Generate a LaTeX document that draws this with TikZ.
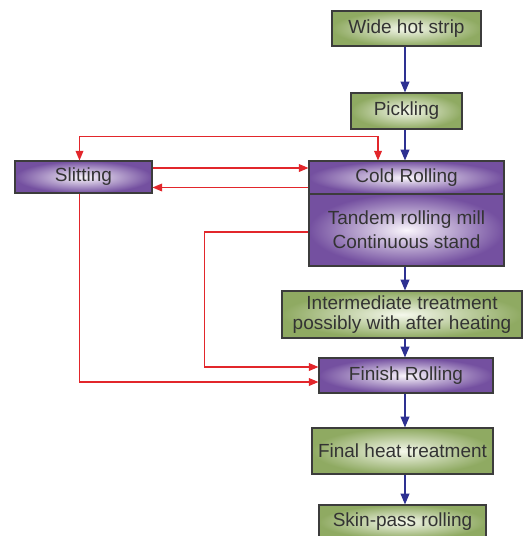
\documentclass[tikz,border=0pt]{standalone}
\usepackage{fontspec}
\setmainfont{Liberation Sans}
\usepackage{tikz}
\usetikzlibrary{shapes,arrows,positioning}
\definecolor{boxline}{HTML}{3C3C3C}
\definecolor{greenedge}{HTML}{8FAA62}
\definecolor{greenmid}{HTML}{F5F8EC}
\definecolor{purpleedge}{HTML}{7450A0}
\definecolor{purplemid}{HTML}{FAF6FC}
\definecolor{flowblue}{HTML}{2E3192}
\definecolor{loopred}{HTML}{E2262B}
\tikzstyle{gbox} = [rectangle, draw=boxline, line width=1.2pt, inner color=greenmid, outer color=greenedge, text=black!80, align=center, inner sep=0pt, font=\fontsize{19}{20}\selectfont]
\tikzstyle{pbox} = [rectangle, draw=boxline, line width=1.2pt, inner color=purplemid, outer color=purpleedge, text=black!80, align=center, inner sep=0pt, font=\fontsize{19}{20}\selectfont]
\tikzstyle{flow} = [draw=flowblue, line width=1.5pt, -triangle 45]
\tikzstyle{back} = [draw=loopred, line width=1.2pt, -triangle 45]

\begin{document}
\begin{tikzpicture}[x=1pt, y=-1pt]
			\clip (0,0) rectangle (531,536);
			\coordinate (spine) at (405,0);

			\node [gbox, minimum width=149, minimum height=35] (strip) at (406.5,28.5) {Wide hot strip};
			\node [gbox, minimum width=111, minimum height=36] (pick) at (406.5,111) {Pickling};
			\node [pbox, minimum width=195, minimum height=33] (cold) at (406.5,177.5) {Cold Rolling};
			\node [pbox, minimum width=195, minimum height=72] (mill) at (406.5,230) {Tandem rolling mill\\[4pt]Continuous stand};
			\node [pbox, minimum width=137, minimum height=32] (slit) at (83.5,177) {Slitting};
			\node [gbox, minimum width=240, minimum height=47] (inter) at (402,314.5) {Intermediate treatment\\possibly with after heating};
			\node [pbox, minimum width=174, minimum height=35] (finish) at (406,375.5) {Finish Rolling};
			\node [gbox, minimum width=181, minimum height=46] (final) at (402.5,451) {Final heat treatment};
			\node [gbox, minimum width=167, minimum height=34] (skin) at (402.5,522) {Skin-pass rolling};

			\path [flow] (strip.south -| spine) -- (pick.north -| spine);
			\path [flow] (pick.south -| spine) -- (cold.north -| spine);
			\path [flow] (mill.south -| spine) -- (inter.north -| spine);
			\path [flow] (inter.south -| spine) -- (finish.north -| spine);
			\path [flow] (finish.south -| spine) -- (final.north -| spine);
			\path [flow] (final.south -| spine) -- (skin.north -| spine);

			\path [back, triangle 45-triangle 45] ([xshift=-4pt]slit.north) -- ++(0,-24) -| ([xshift=-28.5pt]cold.north);
			\path [back] ([yshift=9pt]slit.east) -- ([yshift=9pt]slit.east -| cold.west);
			\path [back] ([yshift=-10pt]cold.west) -- ([yshift=-10pt]cold.west -| slit.east);
			\path [back] ([yshift=-2pt]mill.west) -- ++(-104,0) |- ([yshift=8.5pt]finish.west);
			\path [back] ([xshift=-4pt]slit.south) |- ([yshift=-6.5pt]finish.west);
		\end{tikzpicture}
\end{document}
